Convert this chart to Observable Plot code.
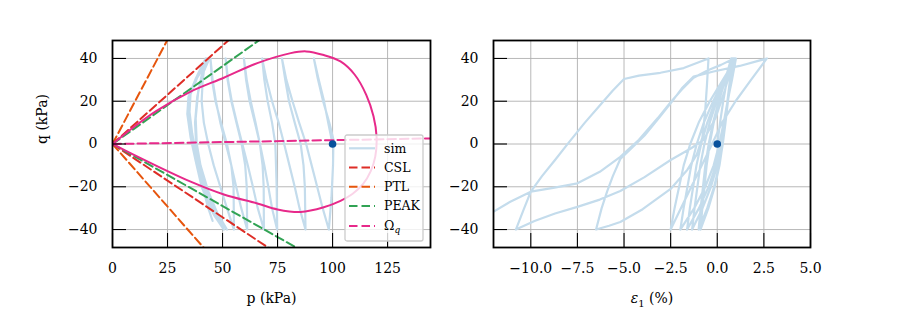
<!DOCTYPE html>
<html><head><meta charset="utf-8">
<script src="https://cdn.jsdelivr.net/npm/d3@7"></script>
<script src="https://cdn.jsdelivr.net/npm/@observablehq/plot@0.6"></script>
<style>
body{margin:0;background:#fff;}
#wrap{position:relative;width:900px;height:330px;font-family:"DejaVu Serif";overflow:hidden;}
#wrap > svg{position:absolute;top:0;}
</style></head><body><div id="wrap"></div>
<script>
// ---- ticks / domains ----
const pTicks = [0, 25, 50, 75, 100, 125];
const qTicks = [-40, -20, 0, 20, 40];
const eTicks = [-10, -7.5, -5, -2.5, 0, 2.5, 5];
const pDomain = [0, 144.5];
const qDomain = [-48.4, 48.4];
const eDomain = [-12, 5];

// ---- reference lines through the origin (slope q/p) ----
const lineNames = ["CSL", "PTL", "PEAK"];
const compSlope = [0.92, 1.95, 0.728];
const extSlope = [-0.685, -1.17, -0.58];

// ---- Omega_q surface ----
const omegaCurve = [[0,0],[10,8.2],[20,15.5],[35.5,24.5],[50.6,31],[65.8,37.8],[81,42.5],[88,43.3],[96,41.6],[103.6,38.6],[110,32.5],[115.3,23],[118.6,13],[120,3.4],[119.4,-5.9],[117.3,-12.8],[113.8,-18.8],[109,-23.4],[103.6,-26.6],[96,-29.6],[85.5,-31.8],[75,-30.6],[65.8,-27.8],[50.6,-23.6],[35.5,-17.6],[20,-10.2],[10,-5.2],[0,0]];
const omegaLine = [[0,0],[150,2.7]];

// ---- start point ----
const startPQ = [[100, 0]];
const startEQ = [[0, 0]];

// ---- simulated stress path (p, q) ----
const simPQ = [
[100,0],[98,10],[96,20.6],[93.5,31],[91.5,40],
[93.2,31],[95.7,20],[98.5,10],[100.4,2],[100.2,-10],[99.5,-25],[98.3,-40],
[95.5,-30],[93,-20],[90.5,-10],[88,0],[84.8,10],[81.8,20],[79,30],[77,40],
[78.5,30],[80.2,20],[82.8,10],[85.5,0],[86.8,-10],[87.4,-20],[87.7,-40],
[85,-30],[82.8,-20],[80.4,-10],[78,0],[75.5,10],[72.5,20],[70,30],[68,40],
[69,30],[70.5,20],[72.5,10],[74,0],[74.6,-20],[74.8,-40],
[72.5,-30],[70.8,-20],[69,-10],[67,0],[65,10],[62.8,20],[61,30],[59.7,40],
[60.7,30],[62.3,20],[64.7,10],[67,0],[68.2,-10],[68.7,-20],[68.8,-40],
[66,-30],[63.8,-20],[61.5,-10],[59,0],[56.5,10],[54.2,20],[52.5,30],[51.4,40],
[52.3,30],[54,20],[56.3,10],[58.7,0],[60.3,-10],[61,-20],[61.2,-40],
[58.5,-30],[56.2,-20],[54,-10],[51.5,0],[49,10],[47,20],[45.5,30],[44.5,40],
[45.2,30],[46.8,20],[49.3,10],[52,0],[54,-10],[55,-20],[55.2,-40],
[52,-30],[49,-20],[46,-10],[43.5,0],[41.5,10],[40.5,20],[41,30],[42.3,40],
[38.5,32],[35.5,24],[35,15],[36.2,5],[38,-5],[40,-15],[42.5,-25],[46,-33],[50.6,-40],
[46.5,-32],[42.5,-22],[39.5,-10],[38,0],[37.5,10],[38.5,22],[40.5,32],[43,40],
[38,31],[34.5,22],[34,14],[35.5,3],[37.8,-8],[40.5,-20],[44.5,-30],[52,-40],
[47.5,-32],[43.5,-22],[40,-10],[38.3,0],[37.8,12],[39,25],[41.5,34],[44,40],
[38.5,31],[35,22],[34.5,14],[36,3],[38.5,-9],[41,-20],[43.5,-30],[45.5,-36]
];

// ---- simulated stress-strain path (eps1 %, q) ----
const simEQ = [
[0,0],[0.15,10],[0.32,20],[0.52,30],[0.75,40],
[0.42,30],[0.09,20],[-0.19,10],[-0.405,0],[-0.57,-10],[-0.686,-20],[-0.801,-30],[-0.9,-40],
[-0.475,-30],[-0.135,-20],[0.12,-10],[0.29,0],[0.426,10],[0.545,20],[0.681,30],[0.8,40],
[0.44,30],[0.08,20],[-0.226,10],[-0.46,0],[-0.64,-10],[-0.766,-20],[-0.892,-30],[-1.0,-40],
[-0.538,-30],[-0.168,-20],[0.11,-10],[0.295,0],[0.443,10],[0.573,20],[0.721,30],[0.85,40],
[0.41,30],[-0.03,20],[-0.404,10],[-0.69,0],[-0.91,-10],[-1.064,-20],[-1.218,-30],[-1.35,-40],
[-0.788,-30],[-0.338,-20],[0.0,-10],[0.225,0],[0.405,10],[0.563,20],[0.743,30],[0.9,40],
[0.396,30],[-0.108,20],[-0.536,10],[-0.864,0],[-1.116,-10],[-1.292,-20],[-1.469,-30],[-1.62,-40],
[-0.978,-30],[-0.464,-20],[-0.078,-10],[0.179,0],[0.385,10],[0.565,20],[0.77,30],[0.95,40],
[0.364,30],[-0.222,20],[-0.72,10],[-1.101,0],[-1.394,-10],[-1.599,-20],[-1.804,-30],[-1.98,-40],
[-1.235,-30],[-0.639,-20],[-0.192,-10],[0.106,0],[0.344,10],[0.553,20],[0.791,30],[1.0,40],
[0.3,30],[-0.4,20],[-0.995,10],[-1.45,0],[-1.8,-10],[-2.045,-20],[-2.29,-30],[-2.5,-40],
[-1.95,-30],[-1.39,-20],[-0.83,-10],[-0.28,0],[0.26,10],[0.98,20],[1.81,30],[2.66,40],
[1.2,36.5],[-0.2,33.9],[-1.27,31.5],[-1.9,26],[-2.43,19.8],[-3.1,12.5],[-3.9,4],[-4.6,-2],[-5.2,-7],[-5.6,-15],[-5.9,-22],[-6.2,-30],[-6.5,-40],
[-5.8,-38.2],[-5.2,-36.5],[-4,-30.5],[-2.5,-21],[-1.6,-12],[-1.1,-5],[-0.8,3],[-0.65,15],[-0.55,28],[-0.47,40],
[-1.8,35.5],[-3.05,33.3],[-4.2,32],[-5,30.4],[-5.6,25],[-6.3,18],[-7.1,10],[-8,0.3],[-8.7,-7.5],[-9.4,-15],[-10,-22.3],[-10.4,-31],[-10.8,-40],
[-9.8,-36],[-8.7,-32.5],[-7.5,-29.4],[-6.3,-26],[-5.2,-22],[-3.9,-15.5],[-2.5,-7.5],[-1.4,-2],[-0.73,1.9],[-0.1,12],[0.4,25],[0.9,40],
[0.2,37],[-0.5,34.5],[-1.27,31],[-1.9,25.5],[-2.5,19.5],[-3.2,12],[-4.2,2],[-5.2,-6],[-6.3,-13],[-7.5,-18.4],[-8.8,-20.5],[-10,-22.3],[-11.1,-27],[-12.15,-32.4],[-13,-36.5]
];

// ---- styles ----
const FONT = "DejaVu Serif";
const simColor = "#c4dcec";
const dotColor = "#08519c";
const lineColors = ["#de2d26", "#e6550d", "#31a354"];
const omegaColor = "#e7298a";
const gridColor = "#b0b0b0";
const DASH = "8.5,4";

const fmt = dec => d => (d < 0 ? "\u2212" : "") + Math.abs(d).toFixed(dec);
const X = d => d[0], Y = d => d[1];

function commonMarks(xTicks, yTicks, fw, fh, xfmt) {
  return {
    grid: [
      Plot.gridX(xTicks, {stroke: gridColor, strokeOpacity: 1, strokeWidth: 0.9}),
      Plot.gridY(yTicks, {stroke: gridColor, strokeOpacity: 1, strokeWidth: 0.9})
    ],
    deco: [
      Plot.frame({stroke: "black", strokeWidth: 1.8}),
      Plot.tickX(xTicks, {x: d => d, stroke: "black", strokeWidth: 1.1, insetTop: fh - 14}),
      Plot.tickY(yTicks, {y: d => d, stroke: "black", strokeWidth: 1.1, insetRight: fw - 14}),
      Plot.axisX(xTicks, {tickSize: 0, tickPadding: 16, tickFormat: xfmt, label: null, fontSize: 14, fill: "black"}),
      Plot.axisY(yTicks, {tickSize: 0, tickPadding: 15, tickFormat: fmt(0), label: null, fontSize: 14, fill: "black"})
    ]
  };
}

// ---- left panel ----
const refLines = [];
lineNames.forEach((n, i) => {
  [compSlope[i], extSlope[i]].forEach(s => {
    refLines.push(Plot.line([[0, 0], [160, s * 160]], {x: X, y: Y, stroke: lineColors[i], strokeWidth: 2, strokeDasharray: DASH, clip: true}));
  });
});
const L = commonMarks(pTicks, qTicks, 318, 207, fmt(0));
const left = Plot.plot({
  width: 450, height: 330,
  marginLeft: 112, marginRight: 20, marginTop: 40, marginBottom: 83,
  style: {fontFamily: FONT, fontSize: "14px", background: "transparent", color: "black"},
  x: {domain: pDomain}, y: {domain: qDomain},
  marks: [
    ...L.grid,
    Plot.line(simPQ, {x: X, y: Y, stroke: simColor, strokeWidth: 2.2, clip: true}),
    ...refLines,
    Plot.line(omegaCurve, {x: X, y: Y, stroke: omegaColor, strokeWidth: 2, curve: "catmull-rom", clip: true}),
    Plot.line(omegaLine, {x: X, y: Y, stroke: omegaColor, strokeWidth: 2, strokeDasharray: DASH, clip: true}),
    Plot.dot(startPQ, {x: X, y: Y, r: 3.8, fill: dotColor}),
    ...L.deco,
    Plot.text(["p (kPa)"], {frameAnchor: "bottom", dy: 55, fontSize: 14, fill: "black"}),
    Plot.text(["q (kPa)"], {frameAnchor: "left", dx: -70, rotate: -90, fontSize: 14, fill: "black"})
  ]
});
left.style.left = "0px";

// ---- right panel ----
const R = commonMarks(eTicks, qTicks, 317, 207, fmt(1));
const right = Plot.plot({
  width: 450, height: 330,
  marginLeft: 43, marginRight: 90, marginTop: 40, marginBottom: 83,
  style: {fontFamily: FONT, fontSize: "14px", background: "transparent", color: "black"},
  x: {domain: eDomain}, y: {domain: qDomain},
  marks: [
    ...R.grid,
    Plot.line(simEQ, {x: X, y: Y, stroke: simColor, strokeWidth: 2.2, clip: true}),
    Plot.dot(startEQ, {x: X, y: Y, r: 3.8, fill: dotColor}),
    ...R.deco,
    Plot.text(["EPSLABEL"], {frameAnchor: "bottom", dy: 55, fontSize: 14, fill: "black"})
  ]
});
right.style.left = "450px";

const wrap = document.getElementById("wrap");
wrap.appendChild(left);
wrap.appendChild(right);

right.querySelectorAll("text").forEach(t => {
  if (t.textContent === "EPSLABEL") {
    t.innerHTML = '<tspan font-style="italic">\u03b5</tspan><tspan font-size="10" dy="4">1</tspan><tspan dy="-4"> (%)</tspan>';
  }
});

// ---- legend (inside left panel) ----
const legNames = ["sim", ...lineNames, "OMEGA"];
const legColors = [simColor, ...lineColors, omegaColor];
const NS = "http://www.w3.org/2000/svg";
const leg = document.createElementNS(NS, "svg");
leg.setAttribute("width", 80); leg.setAttribute("height", 108);
leg.style.left = "344px"; leg.style.top = "134px";
let html = '<rect x="1" y="1" width="78" height="106" rx="2" fill="white" fill-opacity="0.8" stroke="#cccccc" stroke-width="1.3"/>';
const legY = [14.3, 33.6, 52.8, 72, 92];
legNames.forEach((n, i) => {
  const y = legY[i];
  const dash = i === 0 ? "" : ` stroke-dasharray="${DASH}"`;
  html += `<line x1="5" x2="31" y1="${y}" y2="${y}" stroke="${legColors[i]}" stroke-width="${i === 0 ? 2.2 : 2}"${dash}/>`;
  const label = n === "OMEGA" ? '\u03a9<tspan font-style="italic" font-size="9" dy="3">q</tspan>' : n;
  html += `<text x="40" y="${y}" dy="0.35em" font-family="${FONT}" font-size="12.5" fill="black">${label}</text>`;
});
leg.innerHTML = html;
wrap.appendChild(leg);
</script></body></html>
